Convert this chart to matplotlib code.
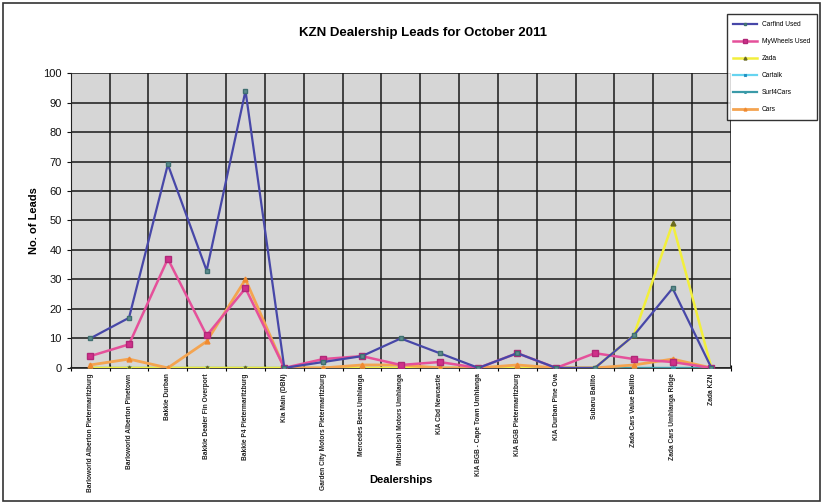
import matplotlib
matplotlib.use('Agg')
import matplotlib.pyplot as plt
import numpy as np

plt.rcParams['font.family'] = ['Liberation Sans', 'DejaVu Sans']

dealers = ['Barloworld Alberton Pietermaritzburg', 'Barloworld Alberton Pinetown',
           'Bakkie Durban', 'Bakkie Dealer Fin Overport', 'Bakkie P4 Pietermaritzburg',
           'Kia Main (DBN)', 'Garden City Motors Pietermaritzburg', 'Mercedes Benz Umhlanga',
           'Mitsubishi Motors Umhlanga', 'KIA Cbd Newcastle', 'KIA BGB - Cape Town Umhlanga',
           'KIA BGB Pietermaritzburg', 'KIA Durban Pine Ova', 'Subaru Ballito',
           'Zada Cars Value Ballito', 'Zada Cars Umhlanga Ridge', 'Zada KZN']

carfind_used = [10, 17, 69, 33, 94, 0, 2, 4, 10, 5, 0, 5, 0, 0, 11, 27, 0]
mywheels_used = [4, 8, 37, 11, 27, 0, 3, 4, 1, 2, 0, 5, 0, 5, 3, 2, 0]
zada = [0, 0, 0, 0, 0, 0, 0, 0, 0, 0, 0, 0, 0, 0, 11, 49, 0]
cartalk = [0, 0, 0, 0, 0, 0, 0, 0, 0, 0, 0, 0, 0, 0, 0, 0, 0]
surf4cars = [0, 0, 0, 0, 0, 0, 0, 0, 0, 0, 0, 0, 0, 0, 0, 0, 0]
cars = [1, 3, 0, 9, 30, 0, 0, 1, 1, 0, 0, 1, 0, 0, 1, 3, 0]

x = np.arange(len(dealers))

fig = plt.figure(figsize=(8.23, 5.04), dpi=100)
ax = fig.add_axes([0.086, 0.270, 0.802, 0.585])
ax.set_facecolor('#d6d6d6')

ax.plot(x, cartalk, color='#66d4f0', lw=1.6, marker='x', ms=3, mec='#2090c0', label='Cartalk', zorder=3)
ax.plot(x, surf4cars, color='#3a9aa8', lw=1.6, marker='*', ms=3, label='Surf4Cars', zorder=3)
ax.plot(x, zada, color='#f2ef3c', lw=1.8, marker='^', ms=3.5, mfc='#6a6a20', mec='#6a6a20', label='Zada', zorder=4)
ax.plot(x, cars, color='#f4a450', lw=2.0, marker='^', ms=3.5, mfc='#f08a30', mec='#f08a30', label='Cars', zorder=4)
ax.plot(x, mywheels_used, color='#e5509a', lw=1.8, marker='s', ms=4.5, mfc='#d0308a', mec='#b02878', label='MyWheels Used', zorder=5)
ax.plot(x, carfind_used, color='#4747a8', lw=1.6, marker='s', ms=3.5, mfc='#5f8f90', mec='#3f6f70', label='Carfind Used', zorder=6)

ax.set_xlim(-0.5, len(dealers) - 0.5)
ax.set_ylim(0, 100)
ax.set_yticks(np.arange(0, 101, 10))
ax.set_xticks(x)
ax.set_xticklabels(dealers, rotation=90, fontsize=4.8, fontweight='bold', color='#222222')
ax.set_xticks(np.arange(-0.5, len(dealers), 1), minor=True)
ax.tick_params(axis='x', which='major', length=0, pad=4)
ax.tick_params(axis='x', which='minor', length=4, width=0.8, direction='inout')
ax.tick_params(axis='y', labelsize=8, length=3, width=0.8, colors='#111111')

ax.grid(True, axis='y', which='major', color='#1a1a1a', lw=1.1)
ax.grid(True, axis='x', which='minor', color='#1a1a1a', lw=1.1)
ax.set_axisbelow(True)
for side in ['top', 'right']:
    ax.spines[side].set_visible(False)
ax.spines['left'].set_color('#222222')
ax.spines['bottom'].set_color('#222222')
ax.spines['bottom'].set_linewidth(1.2)

ax.set_ylabel('No. of Leads', fontsize=8, fontweight='bold', labelpad=3)
fig.text(0.487, 0.048, 'Dealerships', ha='center', va='center', fontsize=8, fontweight='bold')
fig.text(0.514, 0.935, 'KZN Dealership Leads for October 2011', ha='center', va='center',
         fontsize=9.5, fontweight='bold')

# legend order as in the key box
handles, labels = ax.get_legend_handles_labels()
order = ['Carfind Used', 'MyWheels Used', 'Zada', 'Cartalk', 'Surf4Cars', 'Cars']
hl = {l: h for h, l in zip(handles, labels)}
leg = fig.legend([hl[o] for o in order], order, loc='upper left',
                 bbox_to_anchor=(0.879, 0.978), fontsize=4.8, frameon=True,
                 fancybox=False, edgecolor='black', borderpad=1.0, labelspacing=1.5,
                 handlelength=3.5, markerscale=0.6)
leg.get_frame().set_linewidth(1.0)

# outer chart border
fig.patches.append(plt.Rectangle((0.004, 0.006), 0.992, 0.988, transform=fig.transFigure,
                                 fill=False, edgecolor='#333333', lw=1.2))

fig.savefig('out.png', dpi=100)
